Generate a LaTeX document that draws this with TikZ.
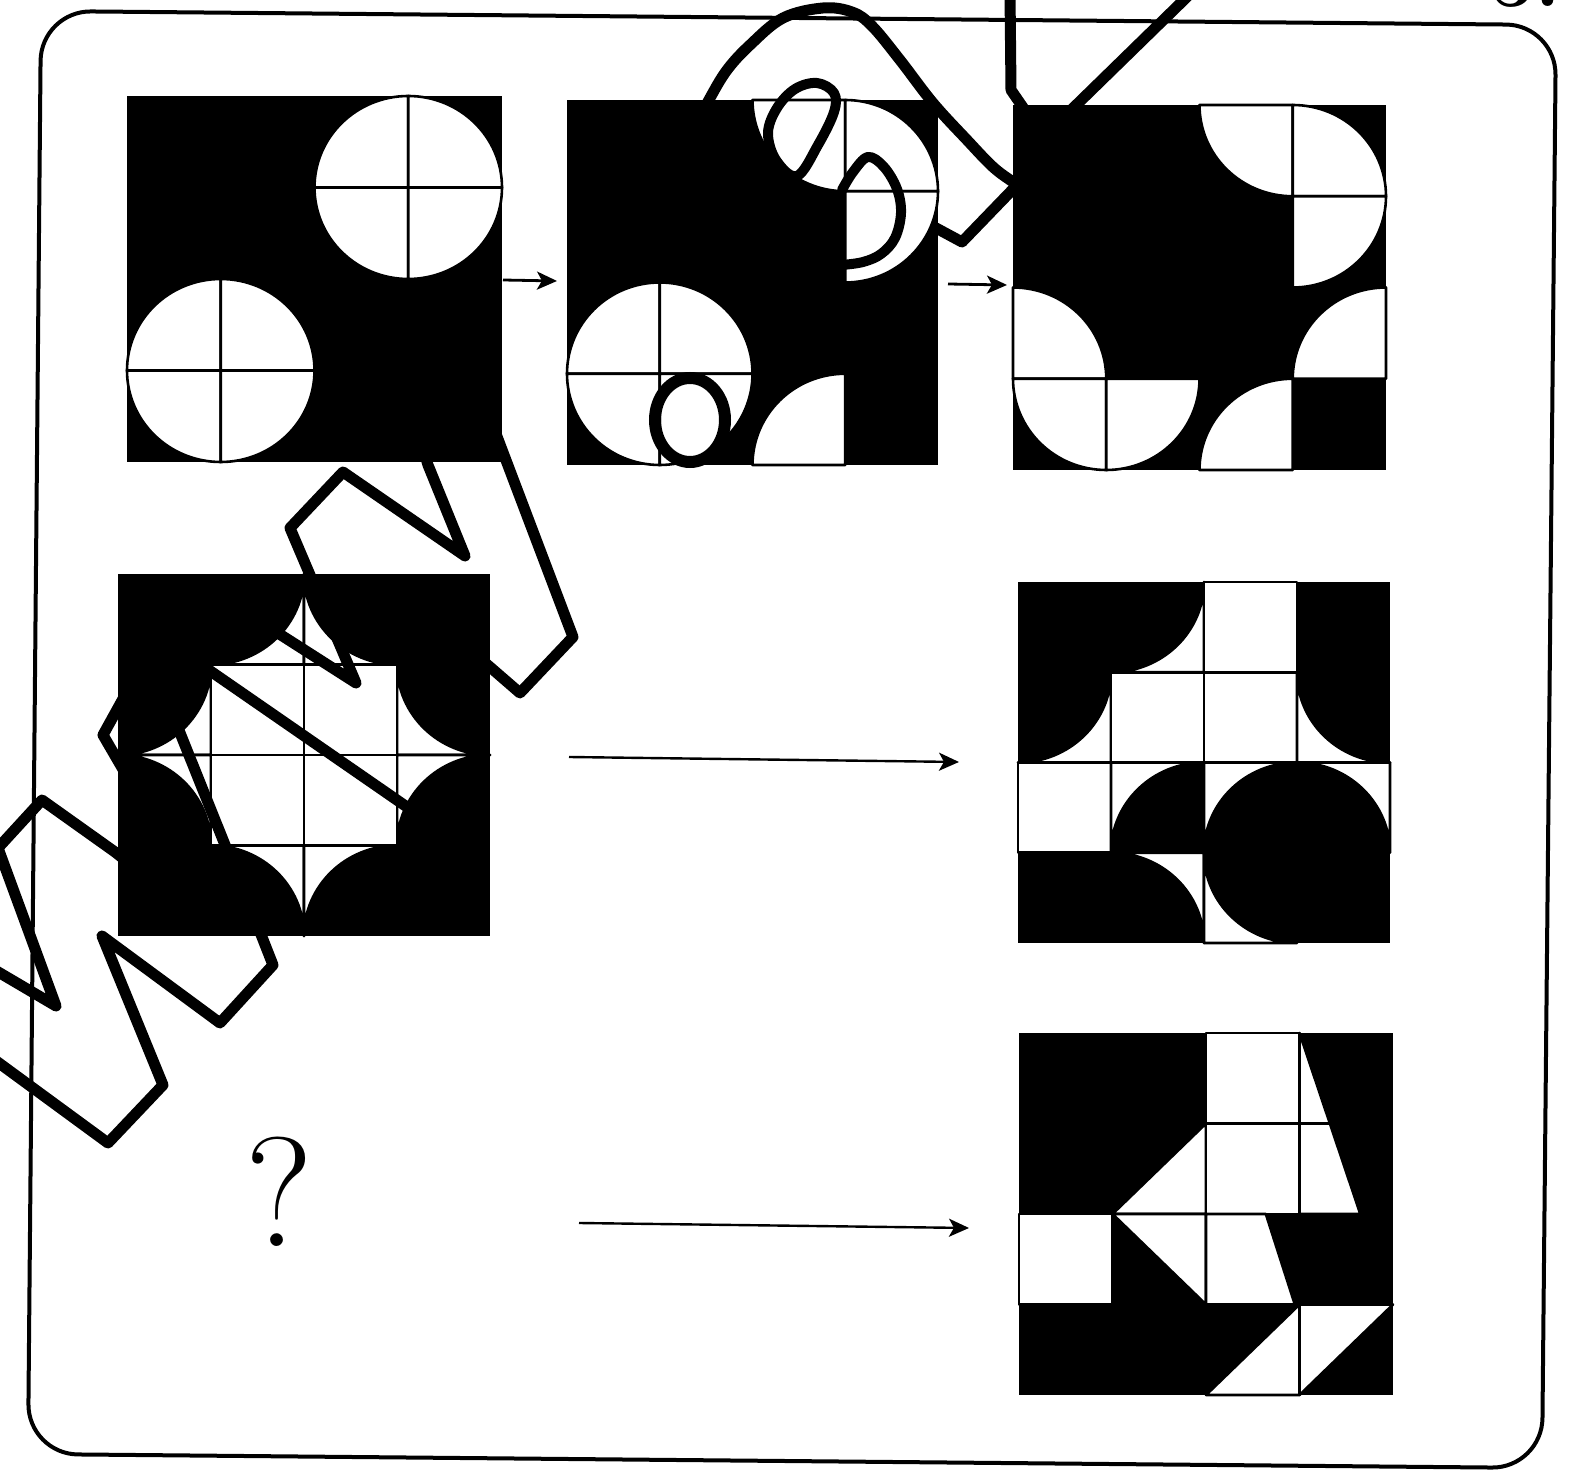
\documentclass[tikz,border=0pt]{standalone}
\usepackage{fontspec}
\usetikzlibrary{arrows.meta}
\tikzset{
 tile/.style={fill=white,draw=black,line width=1.3pt,line join=round},
 wm/.style={draw=black,line width=5.5pt,line join=round,line cap=round},
 wmthin/.style={draw=black,line width=5pt,line join=round,line cap=round},
 arr/.style={line width=1.4pt,-{Stealth[length=10pt,width=9pt,inset=2.5pt]}},
 framebox/.style={draw=black,line width=2pt,rounded corners=25pt},
}
\newcommand\Qprep[4]{%
 \pgfmathsetmacro\qdx{2*(#1+0.5-#3)}%
 \pgfmathsetmacro\qdy{2*(#2+0.5-#4)}%
 \pgfmathsetmacro\qax{#3+\qdx}%
 \pgfmathsetmacro\qby{#4+\qdy}%
 \pgfmathsetmacro\qcx{#3+0.5523*\qdx}%
 \pgfmathsetmacro\qcy{#4+0.5523*\qdy}}
\newcommand\Qd[4]{\Qprep{#1}{#2}{#3}{#4}%
 \path[tile] (#3,#4) -- (\qax,#4) .. controls (\qax,\qcy) and (\qcx,\qby) .. (#3,\qby) -- cycle;}
\newcommand\Cc[4]{\Qprep{#1}{#2}{#3}{#4}%
 \path[tile] (\qax,#4) .. controls (\qax,\qcy) and (\qcx,\qby) .. (#3,\qby) -- (\qax,\qby) -- cycle;}
\newcommand\Wt[2]{\path[tile] (#1,#2) rectangle ++(1,1);}
\begin{document}
\begin{tikzpicture}[x=0.5pt,y=-0.5pt]
\useasboundingbox (0,0) rectangle (1571,1481);
% outer frame
\draw[framebox] (41,11) -- (1556,25) -- (1542,1468) -- (28,1454) -- cycle;
% cut-off label
\node[anchor=base west,inner sep=0pt,font=\rmfamily\bfseries\fontsize{40}{40}\selectfont] (lbl) at (1490,7) {5.};

% Panel 1
\begin{scope}[shift={(127,96)},x=46.875pt,y=-45.75pt]
\fill (0,0) rectangle (4,4);
\Qd{2}{0}{3}{1}\Qd{3}{0}{3}{1}\Qd{2}{1}{3}{1}\Qd{3}{1}{3}{1}
\Qd{0}{2}{1}{3}\Qd{1}{2}{1}{3}\Qd{0}{3}{1}{3}\Qd{1}{3}{1}{3}
\end{scope}
% Panel 2
\begin{scope}[shift={(567,100)},x=46.375pt,y=-45.625pt]
\fill (0,0) rectangle (4,4);
\Qd{0}{2}{1}{3}\Qd{1}{2}{1}{3}\Qd{0}{3}{1}{3}\Qd{1}{3}{1}{3}
\Qd{2}{0}{3}{0}\Qd{3}{0}{3}{1}\Qd{3}{1}{3}{1}\Qd{2}{3}{3}{4}
\end{scope}
% Panel 3
\begin{scope}[shift={(1013,105)},x=46.625pt,y=-45.625pt]
\fill (0,0) rectangle (4,4);
\Qd{2}{0}{3}{0}\Qd{3}{0}{3}{1}\Qd{3}{1}{3}{1}\Qd{3}{2}{4}{3}
\Qd{2}{3}{3}{4}\Qd{0}{2}{0}{3}\Qd{0}{3}{1}{3}\Qd{1}{3}{1}{3}
\end{scope}
% Panel 4
\begin{scope}[shift={(118,574)},x=46.5pt,y=-45.25pt]
\fill (0,0) rectangle (4,4);
\Cc{1}{0}{1}{0}\Cc{2}{0}{3}{0}\Cc{0}{1}{0}{1}\Cc{0}{2}{0}{3}
\Cc{3}{1}{4}{1}\Cc{3}{2}{4}{3}\Cc{1}{3}{1}{4}\Cc{2}{3}{3}{4}
\Wt{1}{1}\Wt{2}{1}\Wt{1}{2}\Wt{2}{2}
\end{scope}
% Panel 5
\begin{scope}[shift={(1018,582)},x=46.5pt,y=-45.125pt]
\fill (0,0) rectangle (4,4);
\Cc{1}{0}{1}{0}\Wt{2}{0}
\Cc{0}{1}{0}{1}\Wt{1}{1}\Wt{2}{1}\Cc{3}{1}{4}{1}
\Wt{0}{2}\Cc{1}{2}{2}{3}\Cc{2}{2}{3}{3}\Cc{3}{2}{3}{3}
\Cc{1}{3}{1}{4}\Cc{2}{3}{3}{3}
\end{scope}
% Panel 6
\begin{scope}[shift={(1019,1033)},x=46.75pt,y=-45.25pt]
\fill (0,0) rectangle (4,4);
\Wt{2}{0}
\path[tile] (3,0) -- (3.325,1) -- (3,1) -- cycle;
\path[tile] (1,2) -- (2,1) -- (2,2) -- cycle;
\Wt{2}{1}
\path[tile] (3,1) -- (3.325,1) -- (3.65,2) -- (3,2) -- cycle;
\Wt{0}{2}
\path[tile] (1,2) -- (2,2) -- (2,3) -- cycle;
\path[tile] (2,2) -- (2.64,2) -- (2.95,3) -- (2,3) -- cycle;
\path[tile] (2,4) -- (3,3) -- (3,4) -- cycle;
\path[tile] (3,3) -- (4,3) -- (3,4) -- cycle;
\end{scope}

% arrows
\coordinate (a1s) at (503,280); \coordinate (a1e) at (557,281);
\coordinate (a2s) at (948,284); \coordinate (a2e) at (1007,285);
\coordinate (a3s) at (569,757); \coordinate (a3e) at (959,762);
\coordinate (a4s) at (579,1223); \coordinate (a4e) at (969,1228);
\draw[arr] (a1s) -- (a1e);
\draw[arr] (a2s) -- (a2e);
\draw[arr,line width=1.2pt] (a3s) -- (a3e);
\draw[arr,line width=1.2pt] (a4s) -- (a4e);

% question mark
\node[anchor=base,inner sep=0pt,font=\rmfamily\fontsize{78}{78}\selectfont] (qm) at (279,1246) {?};

% watermark strokes
\draw[wm] plot[smooth,tension=0.6] coordinates {(700,118) (710,98) (727,70) (750,45) (783,18) (823,8) (852,12) (872,26) (900,60) (933,103) (967,140) (993,167) (1013,182) (1025,190)};
\draw[wm] (936,228) -- (962,242) -- (1018,184);
\draw[wmthin] plot[smooth cycle,tension=0.6] coordinates {(797,176) (818,145) (834,112) (834,93) (817,83) (795,89) (777,108) (768,133) (776,160)};
\draw[wmthin] plot[smooth,tension=0.6] coordinates {(842,190) (853,172) (868,157) (884,167) (897,189) (901,213) (895,238) (881,254) (863,262) (842,265)};
\draw[line width=6pt] (690,420) ellipse [x radius=17.5pt,y radius=21pt];
\draw[wm] (1010,-8) -- (1011,90) -- (1022,106) -- (1030,118);
\draw[wm] (1066,115) -- (1190,-6);
\draw[wm] (490,418) -- (573,637) -- (520,693) -- (490,667) -- (455,637);
\draw[wm] (422,445) -- (428,465) -- (465,556) -- (343,472) -- (290,528) -- (356,683) -- (270,628) -- (228,600);
\draw[wm] (180,650) -- (407,807) -- (435,850);
\draw[wm] (160,683) -- (262,937) -- (273,965) -- (220,1023) -- (102,936) -- (163,1085) -- (108,1143) -- (-12,1055);
\draw[wm] (140,872) -- (115,852) -- (42,800) -- (-2,848) -- (56,1006) -- (-12,966);
\draw[wm] (135,790) -- (103,735) -- (150,650);
\end{tikzpicture}
\end{document}
